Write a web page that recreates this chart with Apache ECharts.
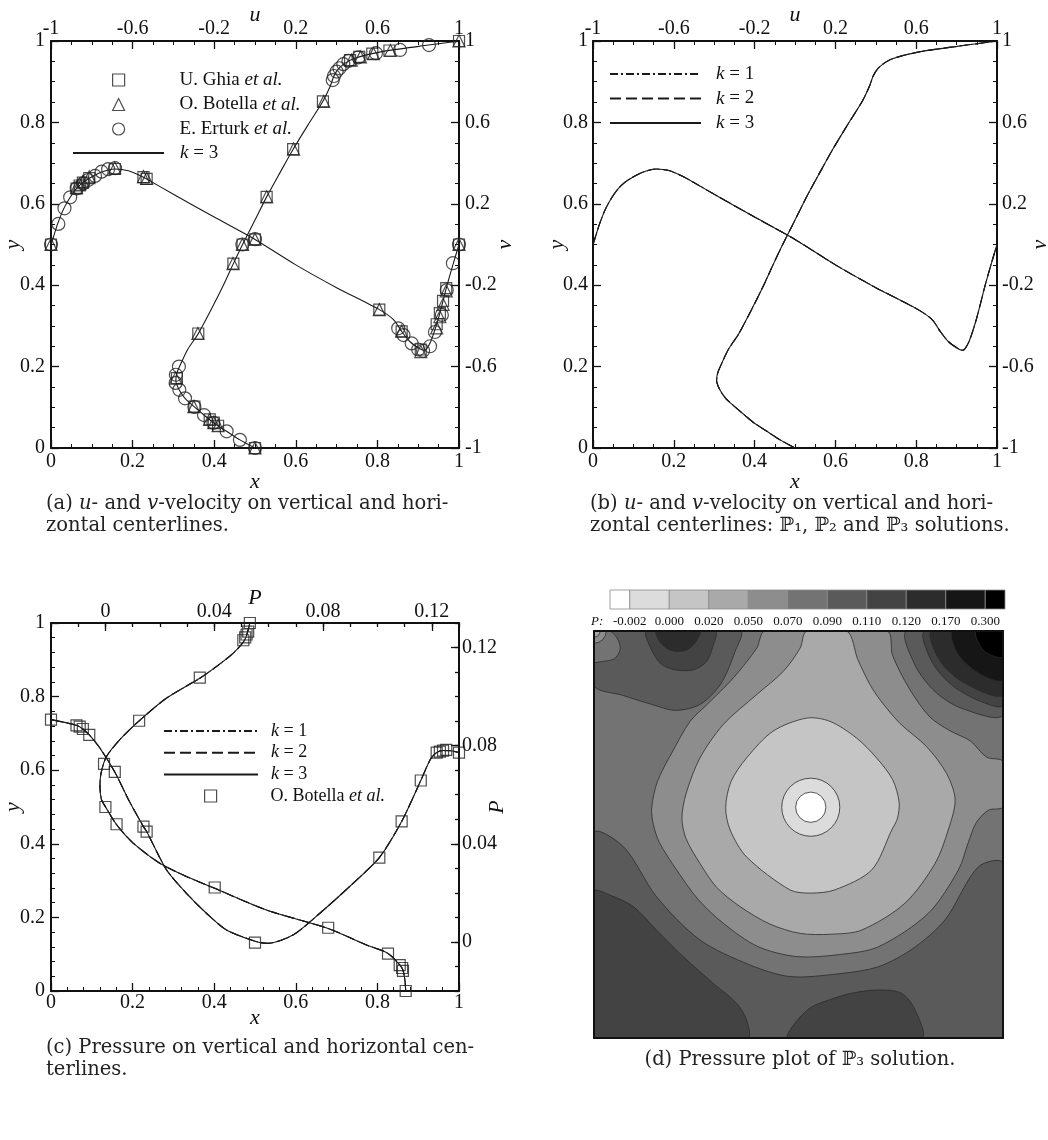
<!DOCTYPE html>
<html>
<head>
<meta charset="utf-8">
<script src="https://cdn.jsdelivr.net/npm/echarts@6/dist/echarts.min.js"></script>
<style>
  html, body { margin: 0; padding: 0; background: #ffffff; }
  #main { width: 1048px; height: 1140px; }
</style>
</head>
<body>
<div id="main"></div>
<script>
// ---- (a)/(b) velocity profiles, k = 3 solution ----
// u along the vertical centerline: [u, y]
const uLineK3 = [
  [0, 0], [-0.074, 0.02], [-0.139, 0.041], [-0.204, 0.062], [-0.25, 0.081], [-0.297, 0.101],
  [-0.343, 0.122], [-0.372, 0.143], [-0.388, 0.166], [-0.384, 0.182], [-0.37, 0.2], [-0.33, 0.242],
  [-0.278, 0.281], [-0.21, 0.345], [-0.155, 0.4], [-0.106, 0.453], [-0.061, 0.5], [0.0, 0.56],
  [0.057, 0.617], [0.122, 0.676], [0.187, 0.734], [0.26, 0.794], [0.333, 0.852], [0.368, 0.888],
  [0.387, 0.914], [0.41, 0.932], [0.44, 0.945], [0.466, 0.953], [0.511, 0.961], [0.575, 0.969],
  [0.659, 0.977], [0.85, 0.99], [1, 1]
];
// v along the horizontal centerline: [x, v]
const vLineK3 = [
  [0, 0], [0.008, 0.05], [0.016, 0.1], [0.031, 0.175], [0.047, 0.232], [0.0625, 0.275], [0.078, 0.304],
  [0.094, 0.326], [0.12, 0.353], [0.156, 0.371], [0.19, 0.362], [0.2266, 0.331], [0.2344, 0.322],
  [0.3, 0.247], [0.4, 0.135], [0.5, 0.025], [0.6, -0.1], [0.7, -0.212], [0.8047, -0.32], [0.84, -0.37],
  [0.8594, -0.427], [0.88, -0.478], [0.9063, -0.515], [0.915, -0.52], [0.93, -0.48], [0.9453, -0.392],
  [0.9531, -0.337], [0.9609, -0.277], [0.9688, -0.214], [0.985, -0.1], [1, 0]
];
const ghiaU = [
  [1, 1], [0.659, 0.9766], [0.575, 0.9688], [0.511, 0.9609], [0.466, 0.9531], [0.333, 0.8516],
  [0.187, 0.7344], [0.057, 0.6172], [-0.061, 0.5], [-0.106, 0.4531], [-0.278, 0.2813], [-0.383, 0.1719],
  [-0.297, 0.1016], [-0.222, 0.0703], [-0.202, 0.0625], [-0.181, 0.0547], [0, 0]
];
const ghiaV = [
  [1, 0], [0.9688, -0.214], [0.9609, -0.277], [0.9531, -0.337], [0.9453, -0.392], [0.9063, -0.516],
  [0.8594, -0.427], [0.8047, -0.32], [0.5, 0.025], [0.2344, 0.322], [0.2266, 0.331], [0.1563, 0.371],
  [0.0938, 0.326], [0.0781, 0.304], [0.0703, 0.29], [0.0625, 0.275], [0, 0]
];
const botellaU = [
  [1, 1], [0.664, 0.9766], [0.581, 0.9688], [0.517, 0.9609], [0.472, 0.9531], [0.337, 0.8516],
  [0.189, 0.7344], [0.057, 0.6172], [-0.062, 0.5], [-0.108, 0.4531], [-0.28, 0.2813], [-0.389, 0.1719],
  [-0.3, 0.1016], [-0.223, 0.0703], [-0.202, 0.0625], [-0.181, 0.0547], [0, 0]
];
const botellaV = [
  [1, 0], [0.9688, -0.228], [0.9609, -0.294], [0.9531, -0.355], [0.9453, -0.41], [0.9063, -0.526],
  [0.8594, -0.426], [0.8047, -0.32], [0.5, 0.026], [0.2344, 0.325], [0.2266, 0.334], [0.1563, 0.377],
  [0.0938, 0.333], [0.0781, 0.31], [0.0703, 0.296], [0.0625, 0.281], [0, 0]
];
const erturkU = [
  [0.853, 0.99], [0.711, 0.978], [0.593, 0.97], [0.507, 0.96], [0.458, 0.951], [0.433, 0.943],
  [0.414, 0.933], [0.4, 0.925], [0.387, 0.914], [0.381, 0.904], [-0.062, 0.5], [-0.373, 0.2],
  [-0.388, 0.18], [-0.389, 0.16], [-0.371, 0.143], [-0.343, 0.122], [-0.297, 0.101], [-0.25, 0.081],
  [-0.204, 0.062], [-0.139, 0.041], [-0.074, 0.02], [0, 0]
];
const erturkV = [
  [0, 0], [0.018, 0.101], [0.033, 0.178], [0.047, 0.232], [0.063, 0.276], [0.079, 0.3], [0.091, 0.317],
  [0.108, 0.337], [0.124, 0.358], [0.14, 0.37], [0.157, 0.375], [0.5, 0.026], [0.851, -0.412],
  [0.864, -0.445], [0.884, -0.486], [0.9, -0.516], [0.912, -0.522], [0.929, -0.5], [0.941, -0.43],
  [0.958, -0.346], [0.97, -0.224], [0.985, -0.092], [1, 0]
];

// ---- (c) pressure profiles ----
// P along the vertical centerline: [P, y]
const pYLineK3 = [
  [0.1104, 0], [0.1101, 0.03], [0.1091, 0.062], [0.1039, 0.102], [0.096, 0.125], [0.0819, 0.17],
  [0.0592, 0.22], [0.0402, 0.279], [0.0298, 0.311], [0.02, 0.347], [0.0102, 0.402], [0.0041, 0.452],
  [0.0, 0.501], [-0.0014, 0.519], [-0.002, 0.556], [-0.0016, 0.592], [0.0004, 0.637], [0.0053, 0.683],
  [0.0124, 0.734], [0.0225, 0.796], [0.0347, 0.85], [0.0409, 0.882], [0.047, 0.918], [0.0513, 0.955],
  [0.0531, 1]
];
// P along the horizontal centerline: [x, P]
const pXLineK3 = [
  [0, 0.0906], [0.0625, 0.0883], [0.078, 0.0868], [0.0938, 0.0844], [0.12, 0.079], [0.1563, 0.0693],
  [0.19, 0.058], [0.2266, 0.047], [0.2344, 0.045], [0.283, 0.0294], [0.332, 0.0198], [0.381, 0.0117],
  [0.43, 0.0049], [0.5, 0.0003], [0.53, -0.0006], [0.593, 0.0028], [0.659, 0.0117], [0.732, 0.0226],
  [0.8047, 0.0344], [0.8594, 0.0491], [0.9063, 0.0658], [0.93, 0.0745], [0.9453, 0.0772],
  [0.9609, 0.078], [0.98, 0.0779], [1, 0.0772]
];
const botellaPY = [
  [0.0531, 1], [0.0525, 0.9766], [0.0519, 0.9688], [0.0514, 0.9609], [0.0507, 0.9531], [0.0347, 0.8516],
  [0.0124, 0.7344], [-0.0005, 0.6172], [0, 0.5], [0.0041, 0.4531], [0.0402, 0.2813], [0.0819, 0.1719],
  [0.1039, 0.1016], [0.1082, 0.0703], [0.1091, 0.0625], [0.1094, 0.0547], [0.1104, 0]
];
const botellaPX = [
  [0, 0.0906], [0.0625, 0.0883], [0.0703, 0.0878], [0.0781, 0.0868], [0.0938, 0.0844], [0.1563, 0.0693],
  [0.2266, 0.047], [0.2344, 0.045], [0.5, -0.0003], [0.8047, 0.0344], [0.8594, 0.0491], [0.9063, 0.0658],
  [0.9453, 0.0772], [0.9531, 0.0776], [0.9609, 0.078], [0.9688, 0.0783], [1, 0.0772]
];

// ---- (d) pressure contour levels ----
const levelLabels = ['-0.002', '0.000', '0.020', '0.050', '0.070', '0.090', '0.110', '0.120', '0.170', '0.300'];
const levelTicks = [1, 2, 3, 4, 5, 6, 7, 8, 9, 10];
const levelColors = ['#ffffff', '#dcdcdc', '#c5c5c5', '#a9a9a9', '#8d8d8d', '#737373',
                     '#5a5a5a', '#434343', '#2c2c2c', '#161616', '#000000'];

// contour regions in cavity coords [x, y]
const regionBase = [[0, 0], [1, 0], [1, 1], [0, 1]];
const regionLowerBand = [[0, 0.503], [0.072, 0.47], [0.153, 0.347], [0.259, 0.241], [0.38, 0.18],
  [0.479, 0.151], [0.6, 0.158], [0.695, 0.175], [0.78, 0.22], [0.858, 0.29], [0.94, 0.421],
  [1, 0.429], [1, 0], [0, 0]];
const regionUpperLeftBand = [[0, 1], [0, 0.866], [0.07, 0.842], [0.14, 0.82], [0.2, 0.805],
  [0.26, 0.82], [0.31, 0.87], [0.345, 0.95], [0.357, 1]];
const regionCornerPatch = [[0, 1], [0.039, 1], [0.058, 0.98], [0.064, 0.955], [0.05, 0.932],
  [0.02, 0.925], [0, 0.925]];
const regionUpperLeftRing = [[0.129, 1], [0.14, 0.955], [0.165, 0.918], [0.202, 0.904], [0.245, 0.905],
  [0.275, 0.925], [0.29, 0.96], [0.296, 1]];
const regionUpperLeftCore = [[0.153, 1], [0.16, 0.975], [0.18, 0.956], [0.205, 0.95], [0.23, 0.955],
  [0.25, 0.975], [0.259, 1]];
const regionUpperRight6 = [[0.765, 1], [0.785, 0.916], [0.834, 0.851], [0.899, 0.81], [1, 0.794], [1, 1]];
const regionUpperRight7 = [[0.809, 1], [0.826, 0.925], [0.875, 0.867], [0.948, 0.826], [1, 0.818], [1, 1]];
const regionUpperRight8 = [[0.826, 1], [0.842, 0.933], [0.899, 0.876], [1, 0.843], [1, 1]];
const regionUpperRight9 = [[0.877, 1], [0.891, 0.941], [0.948, 0.892], [1, 0.88], [1, 1]];
const regionUpperRight10 = [[0.934, 1], [0.948, 0.957], [0.98, 0.937], [1, 0.937], [1, 1]];
const regionLowerLeft7 = [[0, 0.36], [0.039, 0.351], [0.096, 0.323], [0.153, 0.265], [0.218, 0.2],
  [0.292, 0.134], [0.349, 0.085], [0.373, 0.044], [0.375, 0], [0, 0]];
const regionLowerMid7 = [[0.475, 0], [0.49, 0.035], [0.53, 0.075], [0.573, 0.093], [0.63, 0.11],
  [0.695, 0.118], [0.752, 0.11], [0.785, 0.069], [0.8, 0]];
const regionFunnel4 = [[0.418, 1], [0.398, 0.958], [0.341, 0.885], [0.276, 0.819], [0.235, 0.778],
  [0.19, 0.7], [0.155, 0.63], [0.141, 0.566], [0.145, 0.525], [0.16, 0.48], [0.202, 0.413],
  [0.255, 0.34], [0.316, 0.282], [0.4, 0.225], [0.496, 0.2], [0.6, 0.205], [0.695, 0.224],
  [0.817, 0.306], [0.891, 0.413], [0.915, 0.48], [0.935, 0.53], [0.965, 0.56], [1, 0.568],
  [1, 0.679], [0.96, 0.69], [0.92, 0.73], [0.87, 0.755], [0.82, 0.79], [0.77, 0.86], [0.73, 0.94],
  [0.716, 1]];
const regionFunnel3 = [[0.52, 1], [0.504, 0.958], [0.463, 0.901], [0.398, 0.844], [0.316, 0.77],
  [0.259, 0.688], [0.225, 0.6], [0.215, 0.54], [0.225, 0.49], [0.259, 0.429], [0.3, 0.37],
  [0.357, 0.323], [0.43, 0.28], [0.504, 0.257], [0.58, 0.255], [0.654, 0.265], [0.76, 0.331],
  [0.834, 0.429], [0.866, 0.511], [0.883, 0.585], [0.862, 0.65], [0.813, 0.716], [0.748, 0.773],
  [0.7, 0.83], [0.675, 0.868], [0.645, 0.93], [0.618, 1]];
const regionCore2 = [[0.373, 0.688], [0.438, 0.754], [0.52, 0.786], [0.577, 0.778], [0.642, 0.737],
  [0.691, 0.688], [0.73, 0.635], [0.746, 0.58], [0.742, 0.54], [0.728, 0.511], [0.679, 0.413],
  [0.589, 0.364], [0.53, 0.356], [0.479, 0.364], [0.373, 0.445], [0.333, 0.511], [0.322, 0.566],
  [0.335, 0.63]];
// [region, level, smoothing]
const contourRegions = [
  [regionBase, 5, 0],
  [regionLowerBand, 6, 0.3],
  [regionUpperLeftBand, 6, 0.3],
  [regionCornerPatch, 5, 0.3],
  [regionUpperLeftRing, 7, 0.3],
  [regionUpperLeftCore, 8, 0.3],
  [regionUpperRight6, 6, 0.3],
  [regionUpperRight7, 7, 0.3],
  [regionUpperRight8, 8, 0.3],
  [regionUpperRight9, 9, 0.3],
  [regionUpperRight10, 10, 0.3],
  [regionLowerLeft7, 7, 0.3],
  [regionLowerMid7, 7, 0.3],
  [regionFunnel4, 4, 0.3],
  [regionFunnel3, 3, 0.3],
  [regionCore2, 2, 0.3]
];
// round contours: [cx, cy, r, level]
const roundContours = [
  [0.53, 0.567, 0.071, 1],
  [0.53, 0.567, 0.037, 0],
  [0, 1, 0.03, 4],
  [0, 1, 0.015, 3]
];

const FONT = 'Liberation Serif';
const CAPFONT = 'DejaVu Serif';
const INK = '#111';
const LINE = '#1a1a1a';

function frameAxis(o) {
  const ax = {
    type: 'value', gridIndex: o.grid, position: o.pos, min: o.min, max: o.max,
    name: o.name || '', nameLocation: 'middle', nameGap: o.nameGap || 0, nameMoveOverlap: false,
    nameTextStyle: { fontFamily: FONT, fontStyle: 'italic', fontSize: 22, color: INK },
    axisLine: { show: o.line !== false, onZero: false, lineStyle: { color: INK, width: 2 } },
    axisTick: { show: o.ticks !== false, inside: true, length: o.tickLen || 8, lineStyle: { color: INK, width: 1.3 } },
    minorTick: { show: !!o.minor, splitNumber: o.minor || 5, length: 4, lineStyle: { color: INK, width: 1 } },
    axisLabel: { show: o.labels !== false, margin: o.margin || 4, fontFamily: FONT, fontSize: 20, color: INK },
    splitLine: { show: false },
    minorSplitLine: { show: false },
    z: o.z || 0
  };
  if (o.interval !== undefined) ax.interval = o.interval;
  if (o.custom) {
    ax.axisTick.customValues = o.custom;
    ax.axisLabel.customValues = o.custom;
  }
  return ax;
}

function legendText(name) {
  return name.replace('et al.', '{i|et al.}').replace(/^k/, '{i|k}');
}
// lines: hide the symbol the line icon carries; marks: hollow black outline
function legendBox(items, left, top, width, gap, pad, size, isLine) {
  return {
    data: items, left: left, top: top, orient: 'vertical', itemWidth: width, itemHeight: 12,
    itemGap: gap, padding: 0, selectedMode: false, formatter: legendText,
    itemStyle: isLine
      ? { color: 'rgba(0,0,0,0)', borderColor: 'rgba(0,0,0,0)', borderWidth: 0 }
      : { color: 'rgba(0,0,0,0)', borderColor: '#222', borderWidth: 1.2 },
    textStyle: {
      fontFamily: FONT, fontSize: size, color: INK, lineHeight: 20, padding: [0, 0, 0, pad],
      rich: { i: { fontFamily: FONT, fontSize: size, fontStyle: 'italic', color: INK, lineHeight: 20 } }
    }
  };
}

function curve(name, data, xi, yi, dash) {
  return {
    name: name, type: 'line', data: data, xAxisIndex: xi, yAxisIndex: yi, symbol: 'none',
    smooth: 0.25, z: 2, lineStyle: { color: LINE, width: 1.1, type: dash || 'solid' }
  };
}
function marks(name, data, xi, yi, symbol, size) {
  return {
    name: name, type: 'scatter', data: data, xAxisIndex: xi, yAxisIndex: yi, symbol: symbol,
    symbolSize: size, z: 3,
    itemStyle: { color: 'rgba(0,0,0,0)', borderColor: '#222', borderWidth: 1.2 }
  };
}

const DASHDOT = [8, 3, 2, 3];
const DASHED = [11, 5];

const chart = echarts.init(document.getElementById('main'));

function caption(x, y, text, align) {
  return {
    type: 'text', x: x, y: y,
    style: {
      text: text, fontFamily: CAPFONT, fontSize: 19.5, fill: '#222', verticalAlign: 'middle', align: align || 'left',
      rich: { i: { fontFamily: CAPFONT, fontSize: 19.5, fontStyle: 'italic', fill: '#222' } }
    }
  };
}

function panelGrid(left, top, width, height) {
  return { left: left, top: top, width: width, height: height, outerBoundsMode: 'none', containLabel: false };
}

chart.setOption({
  animation: false,
  backgroundColor: '#ffffff',
  grid: [
    panelGrid(51, 41, 408, 407),
    panelGrid(593, 41, 404, 407),
    panelGrid(51, 623, 408, 368),
    panelGrid(594, 631, 409, 407),
    panelGrid(610, 590, 395, 19)
  ],
  xAxis: [
    frameAxis({ grid: 0, pos: 'bottom', min: 0, max: 1, interval: 0.2, minor: 4, margin: 4, name: 'x', nameGap: 23 }),
    frameAxis({ grid: 0, pos: 'top', min: -1, max: 1, interval: 0.4, minor: 4, margin: 2, name: 'u', nameGap: 15 }),
    frameAxis({ grid: 1, pos: 'bottom', min: 0, max: 1, interval: 0.2, minor: 4, margin: 4, name: 'x', nameGap: 23 }),
    frameAxis({ grid: 1, pos: 'top', min: -1, max: 1, interval: 0.4, minor: 4, margin: 2, name: 'u', nameGap: 15 }),
    frameAxis({ grid: 2, pos: 'bottom', min: 0, max: 1, interval: 0.2, minor: 5, margin: 2, name: 'x', nameGap: 16 }),
    frameAxis({ grid: 2, pos: 'top', min: -0.02, max: 0.13, custom: [0, 0.04, 0.08, 0.12], margin: 1, name: 'P', nameGap: 14 }),
    frameAxis({ grid: 2, pos: 'top', min: -0.02, max: 0.13, interval: 0.01, line: false, labels: false, tickLen: 4 }),
    frameAxis({ grid: 3, pos: 'bottom', min: 0, max: 1, ticks: false, labels: false, z: 10 }),
    frameAxis({ grid: 3, pos: 'top', min: 0, max: 1, ticks: false, labels: false, z: 10 }),
    {
      type: 'value', gridIndex: 4, min: 0.5, max: 10.5,
      axisLine: { show: false }, axisTick: { show: false }, splitLine: { show: false },
      axisLabel: {
        margin: 6, fontFamily: FONT, fontSize: 13, color: INK, customValues: levelTicks,
        formatter: (v) => levelLabels[Math.round(v) - 1] || ''
      }
    }
  ],
  yAxis: [
    frameAxis({ grid: 0, pos: 'left', min: 0, max: 1, interval: 0.2, minor: 4, margin: 6, name: 'y', nameGap: 27 }),
    frameAxis({ grid: 0, pos: 'right', min: -1, max: 1, interval: 0.4, minor: 4, margin: 6, name: 'v', nameGap: 35 }),
    frameAxis({ grid: 1, pos: 'left', min: 0, max: 1, interval: 0.2, minor: 4, margin: 5, name: 'y', nameGap: 25 }),
    frameAxis({ grid: 1, pos: 'right', min: -1, max: 1, interval: 0.4, minor: 4, margin: 5, name: 'v', nameGap: 32 }),
    frameAxis({ grid: 2, pos: 'left', min: 0, max: 1, interval: 0.2, minor: 5, margin: 6, name: 'y', nameGap: 27 }),
    frameAxis({ grid: 2, pos: 'right', min: -0.02, max: 0.13, custom: [0, 0.04, 0.08, 0.12], margin: 3, name: 'P', nameGap: 27 }),
    frameAxis({ grid: 2, pos: 'right', min: -0.02, max: 0.13, interval: 0.01, line: false, labels: false, tickLen: 4 }),
    frameAxis({ grid: 3, pos: 'left', min: 0, max: 1, ticks: false, labels: false, z: 10 }),
    frameAxis({ grid: 3, pos: 'right', min: 0, max: 1, ticks: false, labels: false, z: 10 }),
    { type: 'value', gridIndex: 4, min: 0, max: 1, show: false }
  ],
  legend: [
    legendBox([{ name: 'U. Ghia et al.', icon: 'rect' }, { name: 'O. Botella et al.', icon: 'triangle' },
               { name: 'E. Erturk et al.', icon: 'circle' }], 112, 70, 12, 4.5, 50, 19, false),
    legendBox(['k = 3'], 72, 143, 91, 4.5, 11, 19, true),
    legendBox(['k = 1', 'k = 2', 'k = 3'], 609, 64, 91, 4.5, 10, 19, true),
    legendBox(['k = 1', 'k = 2', 'k = 3'], 163, 721, 94, 1.7, 8, 18, true),
    legendBox([{ name: 'O. Botella et al.', icon: 'rect' }], 204, 786, 12, 1.7, 49, 18, false)
  ],
  series: [
    // (a)
    curve('k = 3', uLineK3, 1, 0),
    curve('k = 3', vLineK3, 0, 1),
    marks('U. Ghia et al.', ghiaU, 1, 0, 'rect', 11),
    marks('U. Ghia et al.', ghiaV, 0, 1, 'rect', 11),
    marks('O. Botella et al.', botellaU, 1, 0, 'triangle', 12),
    marks('O. Botella et al.', botellaV, 0, 1, 'triangle', 12),
    marks('E. Erturk et al.', erturkU, 1, 0, 'circle', 13),
    marks('E. Erturk et al.', erturkV, 0, 1, 'circle', 13),
    // (b)
    curve('k = 1', uLineK3, 3, 2, DASHDOT),
    curve('k = 1', vLineK3, 2, 3, DASHDOT),
    curve('k = 2', uLineK3, 3, 2, DASHED),
    curve('k = 2', vLineK3, 2, 3, DASHED),
    curve('k = 3', uLineK3, 3, 2),
    curve('k = 3', vLineK3, 2, 3),
    // (c)
    curve('k = 1', pYLineK3, 5, 4, DASHDOT),
    curve('k = 1', pXLineK3, 4, 5, DASHDOT),
    curve('k = 2', pYLineK3, 5, 4, DASHED),
    curve('k = 2', pXLineK3, 4, 5, DASHED),
    curve('k = 3', pYLineK3, 5, 4),
    curve('k = 3', pXLineK3, 4, 5),
    marks('O. Botella et al.', botellaPY, 5, 4, 'rect', 11),
    marks('O. Botella et al.', botellaPX, 4, 5, 'rect', 11),
    // (d) filled contours
    {
      type: 'custom', xAxisIndex: 7, yAxisIndex: 7, clip: true, z: 2, silent: true,
      data: contourRegions.map((r) => r[0][0]),
      renderItem: function (params, api) {
        const reg = contourRegions[params.dataIndex];
        const pts = reg[0].map((p) => api.coord(p));
        return {
          type: 'polygon',
          shape: { points: pts, smooth: reg[2] },
          style: { fill: levelColors[reg[1]], stroke: params.dataIndex === 0 ? null : '#2b2b2b', lineWidth: 0.8 }
        };
      }
    },
    {
      type: 'custom', xAxisIndex: 7, yAxisIndex: 7, clip: true, z: 3, silent: true,
      data: roundContours,
      renderItem: function (params, api) {
        const c = api.coord([api.value(0), api.value(1)]);
        const r = api.size([api.value(2), api.value(2)])[0];
        return {
          type: 'circle',
          shape: { cx: c[0], cy: c[1], r: r },
          style: { fill: levelColors[api.value(3)], stroke: '#2b2b2b', lineWidth: 0.8 }
        };
      }
    },
    // (d) colour bar: half-width end swatches, level boundaries at 1..10
    {
      type: 'custom', xAxisIndex: 9, yAxisIndex: 9, silent: true,
      data: levelColors.map((c, i) => [i, 0]),
      renderItem: function (params, api) {
        const i = api.value(0);
        const p0 = api.coord([Math.max(i, 0.5), 1]);
        const p1 = api.coord([Math.min(i + 1, 10.5), 0]);
        return {
          type: 'rect',
          shape: { x: p0[0], y: p0[1], width: p1[0] - p0[0], height: p1[1] - p0[1] },
          style: { fill: levelColors[i], stroke: '#8a8a8a', lineWidth: 0.8 }
        };
      }
    }
  ],
  graphic: [
    { type: 'text', x: 591, y: 622, style: { text: 'P:', fontFamily: FONT, fontSize: 13, fontStyle: 'italic', fill: INK, verticalAlign: 'middle' } },
    caption(46, 504, '(a) {i|u}- and {i|v}-velocity on vertical and hori-'),
    caption(46, 526, 'zontal centerlines.'),
    caption(590, 504, '(b) {i|u}- and {i|v}-velocity on vertical and hori-'),
    caption(590, 526, 'zontal centerlines: \u2119\u2081, \u2119\u2082 and \u2119\u2083 solutions.'),
    caption(46, 1048, '(c) Pressure on vertical and horizontal cen-'),
    caption(46, 1070, 'terlines.'),
    caption(800, 1060, '(d) Pressure plot of \u2119\u2083 solution.', 'center')
  ]
});
</script>
</body>
</html>
